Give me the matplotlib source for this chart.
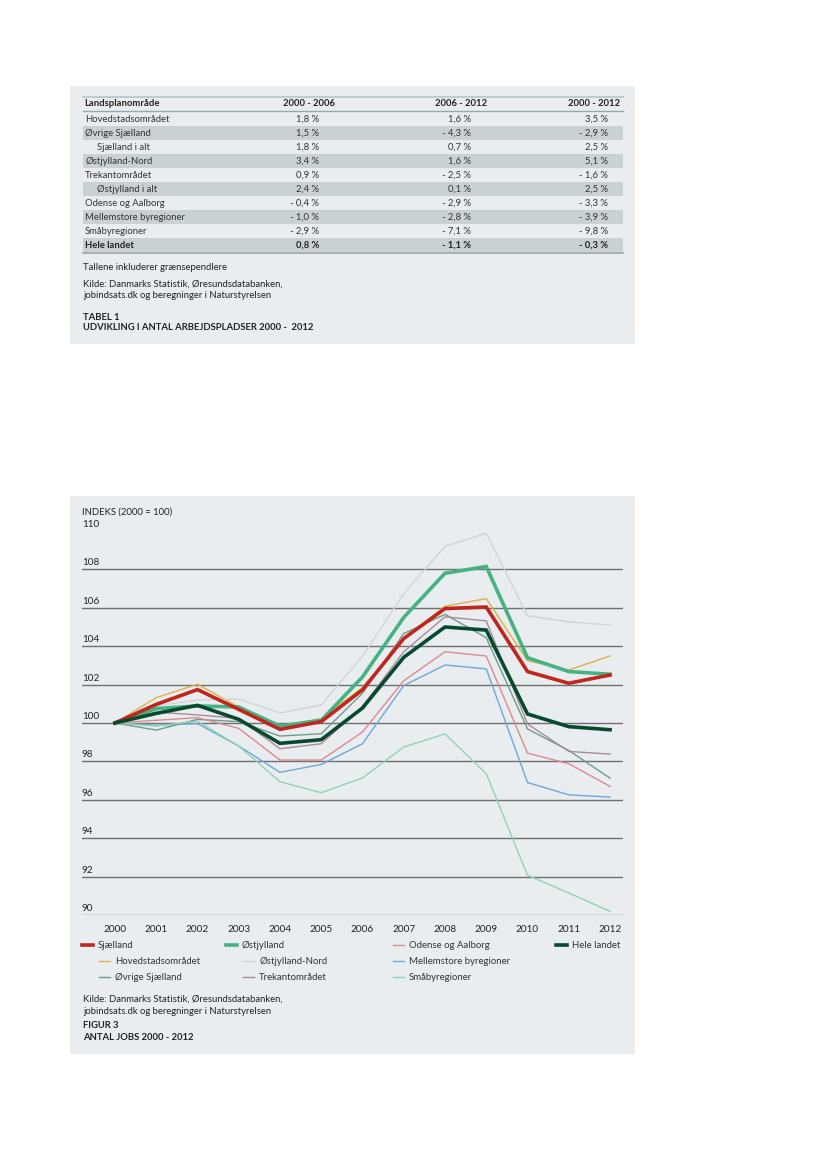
import matplotlib
matplotlib.use("Agg")
import matplotlib.pyplot as plt
from matplotlib.lines import Line2D
from matplotlib.patches import Rectangle

plt.rcParams['font.family'] = ['Lato', 'DejaVu Sans']

# ---- table data ----
tab_header = ["Landsplanområde", "2000 - 2006", "2006 - 2012", "2000 - 2012"]
tab_rows = ["Hovedstadsområdet", "Øvrige Sjælland", "Sjælland i alt", "Østjylland-Nord",
            "Trekantområdet", "Østjylland i alt", "Odense og Aalborg",
            "Mellemstore byregioner", "Småbyregioner", "Hele landet"]
tab_indent = [0, 0, 1, 0, 0, 1, 0, 0, 0, 0]
col_0006 = ["1,8 %", "1,5 %", "1,8 %", "3,4 %", "0,9 %", "2,4 %", "- 0,4 %", "- 1,0 %", "- 2,9 %", "0,8 %"]
col_0612 = ["1,6 %", "- 4,3 %", "0,7 %", "1,6 %", "- 2,5 %", "0,1 %", "- 2,9 %", "- 2,8 %", "- 7,1 %", "- 1,1 %"]
col_0012 = ["3,5 %", "- 2,9 %", "2,5 %", "5,1 %", "- 1,6 %", "2,5 %", "- 3,3 %", "- 3,9 %", "- 9,8 %", "- 0,3 %"]

# ---- chart data (indeks 2000 = 100) ----
years = [2000, 2001, 2002, 2003, 2004, 2005, 2006, 2007, 2008, 2009, 2010, 2011, 2012]
sjaelland    = [100, 100.97, 101.74, 100.71, 99.67, 100.07, 101.73, 104.4, 105.96, 106.04, 102.68, 102.07, 102.5]
ostjylland   = [100, 100.75, 100.89, 100.83, 99.84, 100.14, 102.4, 105.5, 107.8, 108.15, 103.4, 102.68, 102.54]
odense       = [100, 100.14, 100.28, 99.72, 98.07, 98.07, 99.53, 102.2, 103.71, 103.49, 98.43, 97.88, 96.7]
hele_landet  = [100, 100.5, 100.92, 100.19, 98.94, 99.13, 100.78, 103.42, 105.0, 104.84, 100.47, 99.81, 99.65]
hovedstad    = [100, 101.32, 102.02, 100.83, 99.84, 100.23, 101.85, 104.37, 106.08, 106.48, 103.25, 102.76, 103.49]
ostj_nord    = [100, 100.89, 101.2, 101.25, 100.52, 100.94, 103.49, 106.74, 109.2, 109.88, 105.58, 105.27, 105.1]
mellemstore  = [100, 99.88, 99.97, 98.8, 97.43, 97.84, 98.92, 101.95, 103.02, 102.82, 96.9, 96.26, 96.14]
ovrige_sj    = [100, 99.63, 100.19, 100.07, 99.32, 99.44, 101.55, 104.66, 105.66, 104.44, 99.69, 98.57, 97.13]
trekant      = [100, 100.57, 100.42, 100.24, 98.66, 98.92, 100.86, 103.71, 105.53, 105.32, 99.95, 98.52, 98.38]
smaaby       = [100, 99.84, 100.1, 98.8, 96.94, 96.37, 97.14, 98.75, 99.43, 97.36, 92.07, 91.15, 90.19]

W, H = 827, 1169
BG = "#e9edf0"
SHADE = "#c9d1d4"
TXT = "#222222"


def fx(x):
    return x / W


def fy(y):
    return 1 - y / H


fig = plt.figure(figsize=(8.27, 11.69), dpi=100)
fig.patch.set_facecolor("white")

# background panels
fig.add_artist(Rectangle((fx(70), fy(344)), fx(635) - fx(70), fy(86) - fy(344),
                         transform=fig.transFigure, facecolor=BG, edgecolor="none", zorder=0))
fig.add_artist(Rectangle((fx(70), fy(1054)), fx(635) - fx(70), fy(496) - fy(1054),
                         transform=fig.transFigure, facecolor=BG, edgecolor="none", zorder=0))

# ---- table ----
fs = 6.8
col_x = [84, 335, 487, 620]
val_x = [319, 471, 608]
fig.add_artist(Line2D([fx(83), fx(623)], [fy(97), fy(97)], color="#b9c3c7", lw=1.2))
fig.text(fx(col_x[0]), fy(104), tab_header[0], fontsize=fs, fontweight="bold", color=TXT, va="center")
for i in range(1, 4):
    fig.text(fx(col_x[i]), fy(104), tab_header[i], fontsize=fs, fontweight="bold",
             color=TXT, va="center", ha="right")
fig.add_artist(Line2D([fx(83), fx(623)], [fy(111), fy(111)], color="#9aa6aa", lw=1.0))

row_h = 14
for i, name in enumerate(tab_rows):
    yc = 119 + i * row_h
    if i % 2 == 1:
        fig.add_artist(Rectangle((fx(83), fy(yc + 7)), fx(623) - fx(83), fy(yc - 7) - fy(yc + 7),
                                 transform=fig.transFigure, facecolor=SHADE, edgecolor="none", zorder=0.5))
    w = "bold" if name == "Hele landet" else "normal"
    c = TXT if name == "Hele landet" else "#333333"
    fig.text(fx(85 + 12 * tab_indent[i]), fy(yc), name, fontsize=fs, color=c, va="center", fontweight=w)
    for xv, col in zip(val_x, [col_0006, col_0612, col_0012]):
        fig.text(fx(xv), fy(yc), col[i], fontsize=fs, color=c, va="center", ha="right", fontweight=w)
fig.add_artist(Line2D([fx(83), fx(623)], [fy(252.5), fy(252.5)], color="#9aa6aa", lw=1.2))

fig.text(fx(83), fy(268), "Tallene inkluderer grænsependlere", fontsize=fs, color=TXT, va="center")
fig.text(fx(83), fy(284), "Kilde: Danmarks Statistik, Øresundsdatabanken,", fontsize=fs, color=TXT, va="center")
fig.text(fx(83), fy(296), "jobindsats.dk og beregninger i Naturstyrelsen", fontsize=fs, color=TXT, va="center")
fig.text(fx(83), fy(317), "TABEL 1", fontsize=fs, color=TXT, va="center", fontweight="bold")
fig.text(fx(83), fy(328), "UDVIKLING I ANTAL ARBEJDSPLADSER 2000 -  2012", fontsize=fs, color=TXT,
         va="center", fontweight="bold")

# ---- line chart ----
ax = fig.add_axes([fx(82), fy(915), fx(623) - fx(82), fy(531) - fy(915)])
ax.set_facecolor("none")
ax.set_xlim(1999.2, 2012.315)
ax.set_ylim(90, 110)
for s in ax.spines.values():
    s.set_visible(False)
ax.set_yticks([])
ax.set_xticks(years)
ax.set_xticklabels([str(y) for y in years], fontsize=7.2, color=TXT)
ax.tick_params(axis="x", length=0, pad=7)

for v in range(90, 110, 2):
    ax.axhline(v, color="#6f6f6f", lw=1.0, zorder=1)
for v in range(90, 112, 2):
    ax.text(1999.2, v + 0.1, str(v), fontsize=7.2, color=TXT, va="bottom", ha="left")
ax.text(1999.2, 110.75, "INDEKS (2000 = 100)", fontsize=6.8, color=TXT, va="bottom", ha="left")

thin = [
    ("Hovedstadsområdet", hovedstad, "#d9b24a"),
    ("Østjylland-Nord", ostj_nord, "#cfd4d5"),
    ("Mellemstore byregioner", mellemstore, "#6fa6dc"),
    ("Øvrige Sjælland", ovrige_sj, "#6e9c8c"),
    ("Trekantområdet", trekant, "#a88b9b"),
    ("Småbyregioner", smaaby, "#8fd3b2"),
    ("Odense og Aalborg", odense, "#da8b8b"),
]
thick = [
    ("Østjylland", ostjylland, "#45b283"),
    ("Sjælland", sjaelland, "#c0261e"),
    ("Hele landet", hele_landet, "#084a30"),
]
for name, vals, c in thin:
    ax.plot(years, vals, color=c, lw=1.0, zorder=2)
for name, vals, c in thick:
    ax.plot(years, vals, color=c, lw=2.6, zorder=3, solid_joinstyle="miter")

colors = {n: c for n, v, c in thin + thick}

# legend (manual layout)
legend_items = [
    ("Sjælland", 82, 945, True), ("Østjylland", 226, 945, True),
    ("Odense og Aalborg", 393, 945, False), ("Hele landet", 556, 945, True),
    ("Hovedstadsområdet", 99, 961, False), ("Østjylland-Nord", 243, 961, False),
    ("Mellemstore byregioner", 393, 961, False),
    ("Øvrige Sjælland", 99, 977, False), ("Trekantområdet", 243, 977, False),
    ("Småbyregioner", 393, 977, False),
]
for name, x0, y0, is_thick in legend_items:
    lw = 2.6 if is_thick else 1.0
    fig.add_artist(Line2D([fx(x0), fx(x0 + 11)], [fy(y0), fy(y0)], color=colors[name], lw=lw))
    fig.text(fx(x0 + 16), fy(y0), name, fontsize=6.9, color="#333333", va="center")

fig.text(fx(83), fy(999), "Kilde: Danmarks Statistik, Øresundsdatabanken,", fontsize=fs, color=TXT, va="center")
fig.text(fx(83), fy(1011), "jobindsats.dk og beregninger i Naturstyrelsen", fontsize=fs, color=TXT, va="center")
fig.text(fx(83), fy(1026), "FIGUR 3", fontsize=fs, color=TXT, va="center", fontweight="bold")
fig.text(fx(83), fy(1038), "ANTAL JOBS 2000 - 2012", fontsize=fs, color=TXT, va="center", fontweight="bold")

fig.savefig("out.png", dpi=100)
